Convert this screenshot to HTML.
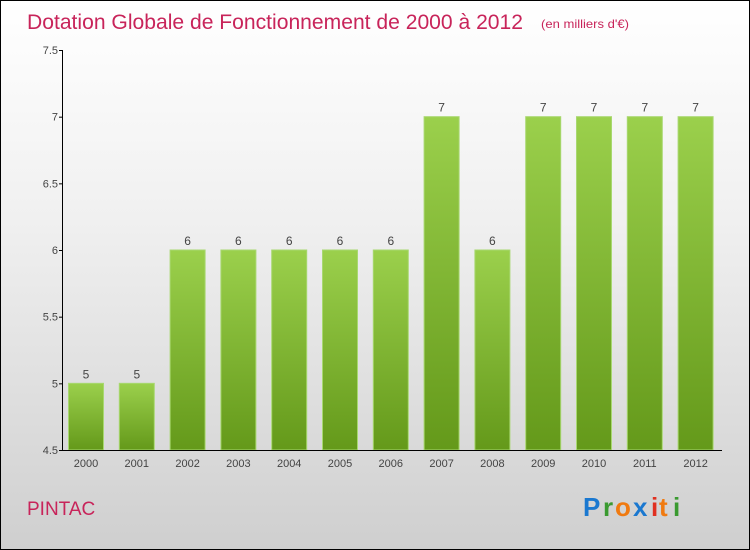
<!DOCTYPE html>
<html><head><meta charset="utf-8"><style>
body{margin:0}
#c{width:748px;height:548px;border:1px solid #000;background:linear-gradient(#fff,#f0f0f0 40%,#cfcfcf);position:relative;font-family:"Liberation Sans",sans-serif;overflow:hidden}
</style></head><body>
<div id="c">
<svg id="s" width="748" height="548" style="position:absolute;left:0;top:0">
<defs><linearGradient id="g" x1="0" y1="0" x2="0" y2="1"><stop offset="0" stop-color="#9bd04c"/><stop offset="1" stop-color="#64991a"/></linearGradient></defs>
<text x="26" y="28" font-size="21" fill="#c8245a" textLength="496" lengthAdjust="spacingAndGlyphs" style="font-weight:300">Dotation Globale de Fonctionnement de 2000 à 2012</text>
<text x="540" y="27" font-size="12" fill="#c8245a" textLength="88" lengthAdjust="spacingAndGlyphs">(en milliers d'€)</text>
<text x="26" y="514" font-size="19" fill="#c8245a">PINTAC</text>
<g font-size="26" font-weight="bold">
<text x="582" y="515" fill="#1a78d0">P</text><text x="602" y="515" fill="#3a9a30">r</text><text x="614" y="515" fill="#f07a10">o</text><text x="632" y="515" fill="#1a78d0">x</text><text x="650" y="515" fill="#e03020">i</text><text x="658" y="515" fill="#f07a10">t</text><text x="672" y="515" fill="#3a9a30">i</text></g>
<g id="plot"></g>
</svg></div>
<script>
const categories=["2000","2001","2002","2003","2004","2005","2006","2007","2008","2009","2010","2011","2012"];
const values=[5,5,6,6,6,6,6,7,6,7,7,7,7];
const ticks=[4.5,5,5.5,6,6.5,7,7.5];
const tickLabels=["4.5","5","5.5","6","6.5","7","7.5"];
const NS="http://www.w3.org/2000/svg",p=document.getElementById('plot');
const y=v=>449-(v-4.5)*133.33, x=i=>85+i*50.8;
function mk(t,a,par){const e=document.createElementNS(NS,t);for(const k in a)e.setAttribute(k,a[k]);(par||p).appendChild(e);return e;}
categories.forEach((c,i)=>{
 const r=mk('rect',{x:x(i)-17.5,y:y(values[i]),width:35,height:449-y(values[i]),fill:'url(#g)',stroke:'#a8d870','stroke-width':1});
 
 
 const l=mk('text',{x:x(i),y:y(values[i])-5,'font-size':12,fill:'#444','text-anchor':'middle'});l.textContent=values[i];
 
 
 const t=mk('text',{x:x(i),y:466,'font-size':11,fill:'#444','text-anchor':'middle'});t.textContent=c;
 
 
});
const ya=mk('line',{x1:61.5,y1:49,x2:61.5,y2:449,stroke:'#000'});


const xa=mk('line',{x1:61,y1:449.5,x2:721,y2:449.5,stroke:'#000'});


ticks.forEach((v,i)=>{
 mk('line',{x1:58,x2:62,y1:y(v)+.5,y2:y(v)+.5,stroke:'#000'});
 const t=mk('text',{x:57,y:y(v)+4,'font-size':11,fill:'#444','text-anchor':'end'});t.textContent=tickLabels[i];
 
 
});
</script>
</body></html>
